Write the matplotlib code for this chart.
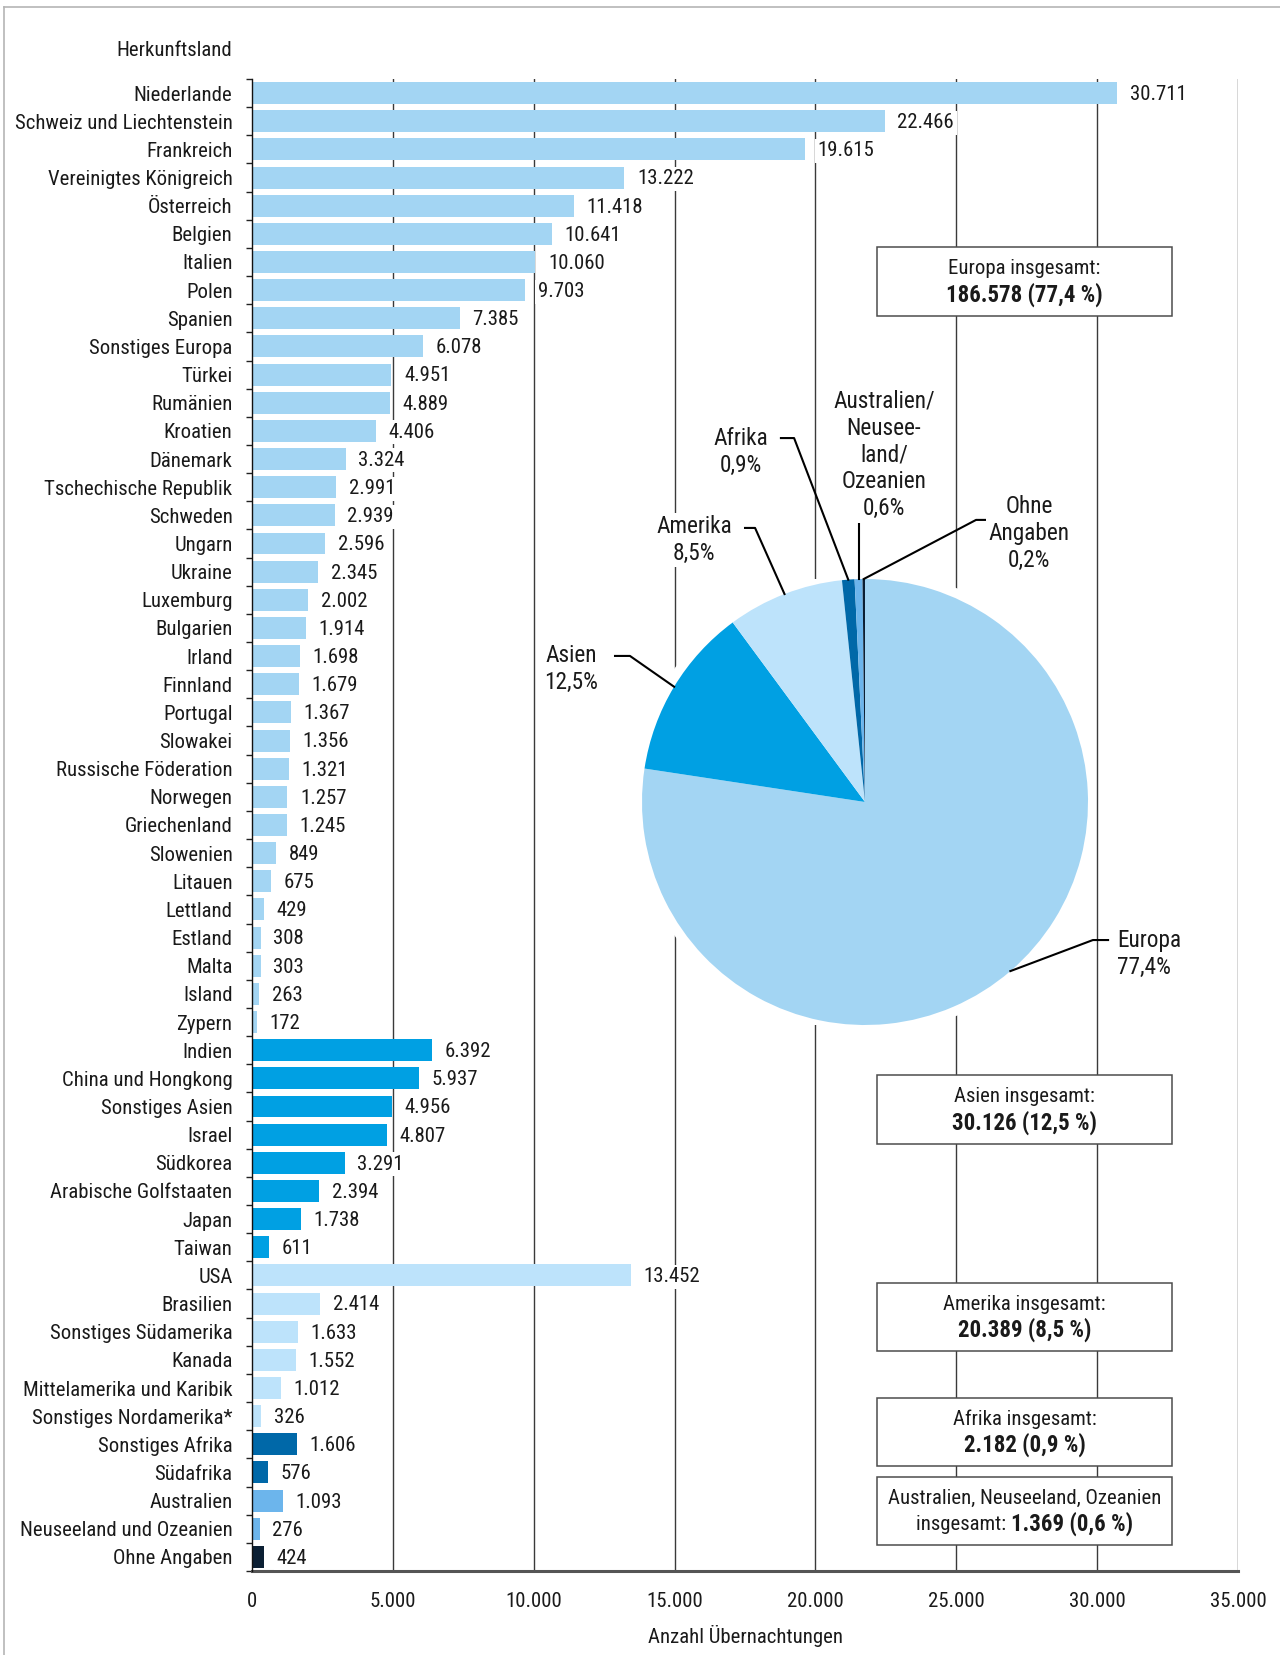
import matplotlib
matplotlib.use("Agg")
import matplotlib.pyplot as plt
import numpy as np
from matplotlib import font_manager
from matplotlib.patches import Rectangle, Circle
from matplotlib.lines import Line2D

# Übernachtungen nach Herkunftsland
countries = [
    "Niederlande", "Schweiz und Liechtenstein", "Frankreich", "Vereinigtes Königreich",
    "Österreich", "Belgien", "Italien", "Polen", "Spanien", "Sonstiges Europa",
    "Türkei", "Rumänien", "Kroatien", "Dänemark", "Tschechische Republik", "Schweden",
    "Ungarn", "Ukraine", "Luxemburg", "Bulgarien", "Irland", "Finnland", "Portugal",
    "Slowakei", "Russische Föderation", "Norwegen", "Griechenland", "Slowenien",
    "Litauen", "Lettland", "Estland", "Malta", "Island", "Zypern",
    "Indien", "China und Hongkong", "Sonstiges Asien", "Israel", "Südkorea",
    "Arabische Golfstaaten", "Japan", "Taiwan",
    "USA", "Brasilien", "Sonstiges Südamerika", "Kanada", "Mittelamerika und Karibik",
    "Sonstiges Nordamerika*",
    "Sonstiges Afrika", "Südafrika",
    "Australien", "Neuseeland und Ozeanien",
    "Ohne Angaben",
]
nights = [
    30711, 22466, 19615, 13222, 11418, 10641, 10060, 9703, 7385, 6078,
    4951, 4889, 4406, 3324, 2991, 2939, 2596, 2345, 2002, 1914,
    1698, 1679, 1367, 1356, 1321, 1257, 1245, 849, 675, 429,
    308, 303, 263, 172,
    6392, 5937, 4956, 4807, 3291, 2394, 1738, 611,
    13452, 2414, 1633, 1552, 1012, 326,
    1606, 576,
    1093, 276,
    424,
]
region = (["Europa"] * 34 + ["Asien"] * 8 + ["Amerika"] * 6 + ["Afrika"] * 2
          + ["Ozeanien"] * 2 + ["Ohne"])

regions = ["Europa", "Asien", "Amerika", "Afrika", "Ozeanien", "Ohne"]
region_colors = {
    "Europa": "#a3d5f3",
    "Asien": "#00a0e3",
    "Amerika": "#bde3fb",
    "Afrika": "#0068a8",
    "Ozeanien": "#6cb5ec",
    "Ohne": "#0b1f33",
}
pie_labels = ["Europa", "Asien", "Amerika", "Afrika",
              "Australien/\nNeusee-\nland/\nOzeanien", "Ohne\nAngaben"]
box_titles = ["Europa insgesamt:", "Asien insgesamt:", "Amerika insgesamt:",
              "Afrika insgesamt:", "Australien, Neuseeland, Ozeanien"]


def pick_font():
    # prefer a narrow sans, otherwise Roboto
    entries = font_manager.fontManager.ttflist
    names = {f.name for f in entries}
    for n in ["Liberation Sans Narrow", "Noto Sans Condensed", "Roboto Condensed",
              "Open Sans Condensed", "DejaVu Sans Condensed",
              "Noto Sans SemiCondensed", "Open Sans SemiCondensed"]:
        if n in names:
            return n, "normal"
    for n in ["Noto Sans", "DejaVu Sans", "Open Sans", "Roboto"]:
        for f in entries:
            if f.name == n and f.stretch in ("condensed", "semi-condensed"):
                return n, f.stretch
    return "Roboto", "normal"


font, stretch = pick_font()
plt.rcParams["font.family"] = [font, "DejaVu Sans"]
plt.rcParams["font.stretch"] = stretch
txt_col = "#1a1a1a"


def de(v):
    return f"{v:,}".replace(",", ".")


def pct(p):
    return f"{p:.1f}".replace(".", ",")


W, H = 1280, 1655
fig = plt.figure(figsize=(W / 100, H / 100), dpi=100)
renderer = fig.canvas.get_renderer()

# size the text so the longest country name spans ~216 px
probe = fig.text(0, 0, "Schweiz und Liechtenstein", fontsize=10)
fs = min(10 * 216 / probe.get_window_extent(renderer).width, 16.5)
probe.remove()


def fx(x):
    return x / W


def fy(y):
    return 1 - y / H


# outer frame (top and left only)
fig.add_artist(Line2D([fx(4), 1], [fy(7), fy(7)], color="#b5b5b5", lw=1.2))
fig.add_artist(Line2D([fx(4), fx(4)], [fy(7), 0], color="#b5b5b5", lw=1.2))

ax = fig.add_axes([fx(252), fy(1571), fx(1238) - fx(252), fy(79) - fy(1571)])
y = np.arange(len(countries))
colors = [region_colors[r] for r in region]
ax.barh(y, nights, height=0.78, color=colors, zorder=2)

for gx in range(5000, 35001, 5000):
    ax.axvline(gx, color="#3a3a3a", lw=1.0, zorder=1)

for i, v in enumerate(nights):
    ax.annotate(de(v), xy=(v, i), xytext=(9, -1), textcoords="offset points",
                ha="left", va="center", fontsize=fs, color=txt_col, zorder=3,
                bbox=dict(boxstyle="square,pad=0.12", fc="white", ec="none"))

ax.set_xlim(0, 35000)
ax.set_ylim(len(countries) - 0.5, -0.5)
ax.set_yticks(y)
ax.set_yticklabels(countries, fontsize=fs, color=txt_col)
ax.set_yticks(np.arange(-0.5, len(countries)), minor=True)
ax.tick_params(axis="y", which="major", length=0, pad=14)
ax.tick_params(axis="y", which="minor", length=4.5, width=1, color="#222222",
               direction="out")
xt = np.arange(0, 35001, 5000)
ax.set_xticks(xt)
ax.set_xticklabels([de(v) for v in xt], fontsize=fs, color=txt_col)
ax.tick_params(axis="x", length=0, pad=15)
ax.set_xlabel("Anzahl Übernachtungen", fontsize=fs, color=txt_col, labelpad=10)
for s in ["top", "right"]:
    ax.spines[s].set_visible(False)
ax.spines["left"].set_color("#111111")
ax.spines["left"].set_linewidth(1.0)
ax.spines["bottom"].set_color("#555555")
ax.spines["bottom"].set_linewidth(2.2)
ax.spines["left"].set_zorder(4)

fig.text(fx(232), fy(50), "Herkunftsland", ha="right", va="center",
         fontsize=fs, color=txt_col)

# regional totals
totals = [sum(v for v, r in zip(nights, region) if r == g) for g in regions]
grand = sum(totals)
shares = [100 * t / grand for t in totals]

# pie chart
R = 223
cx, cy = 865, 802
pax = fig.add_axes([fx(cx - R), fy(cy + R), 2 * R / W, 2 * R / H])
pax.add_patch(Circle((0, 0), 1.04, color="white", zorder=0))
wedges, _ = pax.pie(totals, colors=[region_colors[g] for g in regions],
                    startangle=90, counterclock=False, radius=1,
                    wedgeprops=dict(linewidth=0))
pax.set_xlim(-1, 1)
pax.set_ylim(-1, 1)
pax.set_aspect("equal")
pax.axis("off")

mid = [np.deg2rad((w.theta1 + w.theta2) / 2) for w in wedges]
tips = [(np.cos(a), np.sin(a)) for a in mid]

# label position, label anchor, elbow, alignment
label_layout = [
    ((1.13, -0.682), (1.09, -0.619), (1.022, -0.619), "left"),
    ((-1.318, 0.596), (-1.121, 0.655), (-1.054, 0.655), "center"),
    ((-0.767, 1.175), (-0.538, 1.229), (-0.493, 1.229), "center"),
    ((-0.556, 1.57), (-0.377, 1.632), (-0.318, 1.632), "center"),
    ((0.085, 1.556), None, None, "center"),
    ((0.735, 1.202), (0.57, 1.265), (0.498, 1.265), "center"),
]
for k, (lab, sh) in enumerate(zip(pie_labels, shares)):
    (tx, ty), start, elbow, ha = label_layout[k]
    tip = tips[k]
    if start is None:
        xs, ys = [tip[0], tip[0]], [1.278, tip[1]]
    else:
        xs = [start[0], elbow[0], tip[0]]
        ys = [start[1], elbow[1], tip[1]]
    pax.plot(xs, ys, color="black", lw=1.5, clip_on=False, zorder=5)
    pax.text(tx, ty, f"{lab}\n{pct(sh)}%", ha=ha, va="center",
             fontsize=fs * 1.12, color=txt_col, linespacing=1.22, zorder=6,
             bbox=dict(boxstyle="square,pad=0.1", fc="white", ec="none"))

# summary boxes
box_rows = [(247, 316), (1075, 1144), (1283, 1351), (1398, 1466), (1477, 1545)]
bx0, bx1 = 877, 1172
bcx = (bx0 + bx1) / 2
for k, (top, bot) in enumerate(box_rows):
    fig.add_artist(Rectangle((fx(bx0), fy(bot)), (bx1 - bx0) / W, (bot - top) / H,
                             transform=fig.transFigure, fc="white",
                             ec="#4d4d4d", lw=1.1, zorder=5))
    mcy = (top + bot) / 2
    fig.text(fx(bcx), fy(mcy - 13), box_titles[k], ha="center", va="center",
             fontsize=fs, color=txt_col, zorder=6)
    val = f"{de(totals[k])} ({pct(shares[k])} %)"
    if k < 4:
        fig.text(fx(bcx), fy(mcy + 13), val, ha="center", va="center",
                 fontsize=fs * 1.1, fontweight="bold", color=txt_col, zorder=6)
    else:
        t1 = fig.text(0, fy(mcy + 13), "insgesamt: ", ha="left", va="center",
                      fontsize=fs, color=txt_col, zorder=6)
        t2 = fig.text(0, fy(mcy + 13), val, ha="left", va="center",
                      fontsize=fs * 1.1, fontweight="bold", color=txt_col, zorder=6)
        w1 = t1.get_window_extent(renderer).width
        w2 = t2.get_window_extent(renderer).width
        x0 = bcx - (w1 + w2) / 2
        t1.set_x(fx(x0))
        t2.set_x(fx(x0 + w1))

fig.savefig("out.png", dpi=100)
